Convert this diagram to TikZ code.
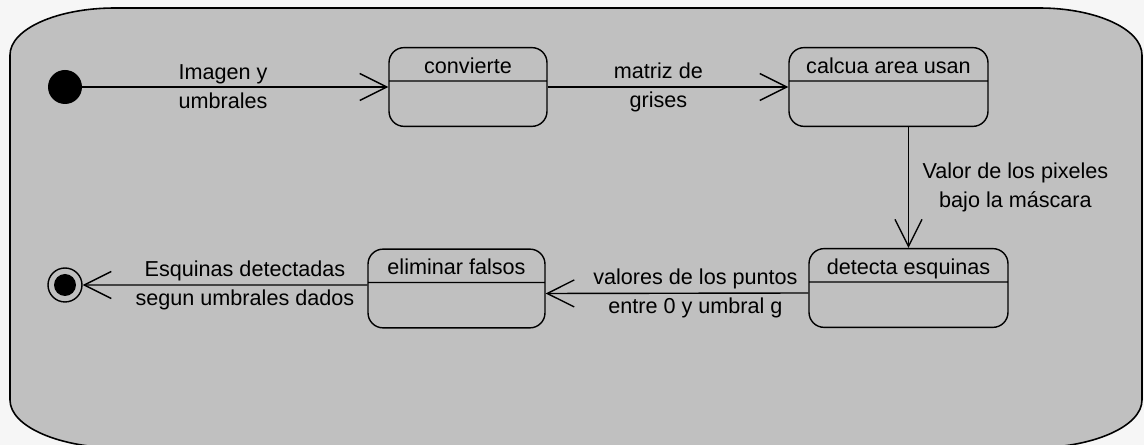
\documentclass[tikz,border=0pt]{standalone}
\usepackage{fontspec}
\setmainfont{Liberation Sans}
\usetikzlibrary{arrows.meta,shapes.multipart}
\definecolor{fondo}{HTML}{C0C0C0}
\definecolor{afuera}{HTML}{F6F6F6}
\newcommand{\cabeza}{\rule[-4pt]{0pt}{18.2pt}}
\newcommand{\cuerpo}{\rule{0pt}{25pt}}
\tikzset{
  estado/.style={rectangle split, rectangle split parts=2, draw, line width=0.8pt,
    rounded corners=0.3cm, inner ysep=0pt, font=\fontsize{12.3}{14}\selectfont},
  inicio/.style={circle, fill, minimum size=0.68cm, inner sep=0pt},
  final/.style={circle, draw, line width=0.8pt, minimum size=0.68cm, inner sep=0pt,
    path picture={\fill (path picture bounding box.center) circle (0.22cm);}},
  lbl/.style={align=center, font=\fontsize{12.3}{16.5}\selectfont},
}
\begin{document}
\begin{tikzpicture}[x=0.02cm, y=-0.02cm]
      \useasboundingbox (0,0) rectangle (1144,445);
      \fill[afuera] (0,0) rectangle (1144,445);
      \clip (0,0) rectangle (1144,445);
      \filldraw[fill=fondo, line width=0.9pt]
        (10,55) arc[start angle=180, end angle=270, x radius=105, y radius=47]
        -- (1039,8) arc[start angle=270, end angle=360, x radius=103, y radius=47]
        -- (1142,400) arc[start angle=0, end angle=90, x radius=110, y radius=48]
        -- (120,448) arc[start angle=90, end angle=180, x radius=110, y radius=48]
        -- cycle;
      \draw
        (65,87) node[inicio] (ini) {}
        (468,87) node[estado, minimum width=3.16cm] (conv) {\cabeza convierte\nodepart{two}\cuerpo}
        (888.5,87) node[estado, minimum width=3.98cm] (calc) {\cabeza calcua area usan\nodepart{two}\cuerpo}
        (908.5,288) node[estado, minimum width=3.98cm] (det) {\cabeza detecta esquinas\nodepart{two}\cuerpo}
        (456.5,288.5) node[estado, minimum width=3.54cm] (elim) {\cabeza eliminar falsos\nodepart{two}\cuerpo}
        (65,285) node[final] (fin) {};
      \begin{scope}[line width=0.8pt, -{Straight Barb[length=5.4mm, width=5.4mm]}]
        \draw (ini) to node[lbl, align=left, pos=0.46] {Imagen y\\umbrales} (conv);
        \draw (conv) to node[lbl, pos=0.46] {matriz de\\grises} (calc);
        \draw (calc.south -| det.north) to node[lbl, right=0.15cm] {Valor de los pixeles\\bajo la máscara} (det.north);
        \draw ([yshift=-0.1cm]det.west) to node[lbl, pos=0.43] {valores de los puntos\\entre 0 y umbral g} ([yshift=-0.1cm]elim.east);
        \draw ([yshift=0.07cm]elim.west) to node[lbl, pos=0.43] {Esquinas detectadas\\segun umbrales dados} (fin);
      \end{scope}
    \end{tikzpicture}
\end{document}
